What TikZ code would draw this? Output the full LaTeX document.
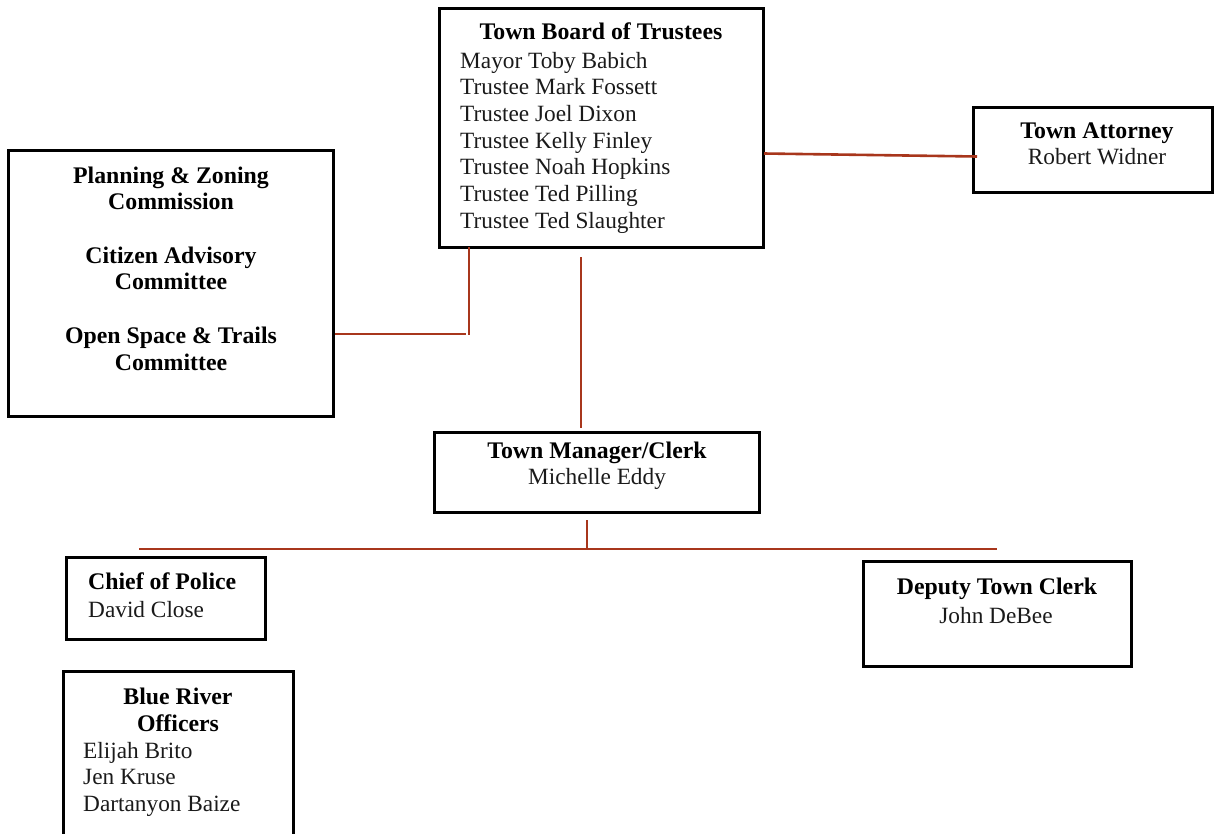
\documentclass[tikz,border=0pt]{standalone}
\usepackage{fontspec}
\setmainfont{Liberation Serif}
\definecolor{conn}{HTML}{A8361C}
\definecolor{txt}{HTML}{1A1A1A}
\tikzset{
  box/.style={draw=black, line width=3pt, inner sep=0pt, rectangle},
  conline/.style={draw=conn, line width=2.6pt},
  ttl/.style={anchor=base, inner sep=0pt, font=\fontsize{23.8}{26}\selectfont\bfseries, text=black},
  nm/.style={anchor=base west, inner sep=0pt, font=\fontsize{23.3}{26}\selectfont, text=txt},
  nmc/.style={anchor=base, inner sep=0pt, font=\fontsize{23.3}{26}\selectfont, text=txt}
}
\begin{document}
\begin{tikzpicture}[x=1pt,y=-1pt]
\useasboundingbox (0,0) rectangle (1214,833);
\begin{scope}
\clip (0,0) rectangle (1214,833);
% boxes
\node[box, minimum width=324pt, minimum height=239pt] (board) at (601,127.5) {};
\node[box, minimum width=239pt, minimum height=85pt] (atty) at (1092.5,149.5) {};
\node[box, minimum width=325pt, minimum height=266pt] (plan) at (170.5,283) {};
\node[box, minimum width=325pt, minimum height=80pt] (mgr) at (596.5,472) {};
\node[box, minimum width=199pt, minimum height=82pt] (chief) at (165.5,598) {};
\node[box, minimum width=230pt, minimum height=200pt] (blue) at (178,771) {};
\node[box, minimum width=268pt, minimum height=105pt] (dep) at (997,613.5) {};

% texts: board
\node[ttl] (t1) at (601,39) {Town Board of Trustees};
\node[nm] (b1) at (460,68) {Mayor Toby Babich};
\node[nm] (b2) at (460,94.5) {Trustee Mark Fossett};
\node[nm] (b3) at (460,121) {Trustee Joel Dixon};
\node[nm] (b4) at (460,148) {Trustee Kelly Finley};
\node[nm] (b5) at (460,174.5) {Trustee Noah Hopkins};
\node[nm] (b6) at (460,201) {Trustee Ted Pilling};
\node[nm] (b7) at (460,228) {Trustee Ted Slaughter};
% attorney
\node[ttl] (t2) at (1097,138) {Town Attorney};
\node[nmc] (a1) at (1097,164) {Robert Widner};
% planning
\node[ttl] (p1) at (171,183) {Planning \& Zoning};
\node[ttl] (p2) at (171,209) {Commission};
\node[ttl] (p3) at (171,263) {Citizen Advisory};
\node[ttl] (p4) at (171,289) {Committee};
\node[ttl] (p5) at (171,343) {Open Space \& Trails};
\node[ttl] (p6) at (171,370) {Committee};
% manager
\node[ttl] (m1) at (597,458) {Town Manager/Clerk};
\node[nmc] (m2) at (597,484) {Michelle Eddy};
% chief
\node[ttl, anchor=base west] (c1) at (88,589) {Chief of Police};
\node[nm] (c2) at (88,617) {David Close};
% blue river
\node[ttl] (r1) at (178,704) {Blue River};
\node[ttl] (r2) at (178,731) {Officers};
\node[nm] (r3) at (83,758) {Elijah Brito};
\node[nm] (r4) at (83,784) {Jen Kruse};
\node[nm] (r5) at (83,811) {Dartanyon Baize};
% deputy
\node[ttl] (d1) at (997,594) {Deputy Town Clerk};
\node[nmc] (d2) at (996,623) {John DeBee};

% connector end points
\coordinate (ba) at (764,153.5);
\coordinate (aa) at (977,156.5);
\coordinate (pv1) at (469,247);
\coordinate (pv2) at (469,335);
\coordinate (ph1) at (335,334);
\coordinate (ph2) at (466,334);
\coordinate (mv1) at (581,257);
\coordinate (mv2) at (581,428);
\coordinate (sv1) at (587,520);
\coordinate (sv2) at (587,548);
\coordinate (sh1) at (139,549);
\coordinate (sh2) at (997,549);

\draw[conline] (ba) -- (aa);
\draw[conline] (pv1) -- (pv2);
\draw[conline] (ph1) -- (ph2);
\draw[conline] (mv1) -- (mv2);
\draw[conline] (sv1) -- (sv2);
\draw[conline] (sh1) -- (sh2);
\end{scope}
\end{tikzpicture}
\end{document}
